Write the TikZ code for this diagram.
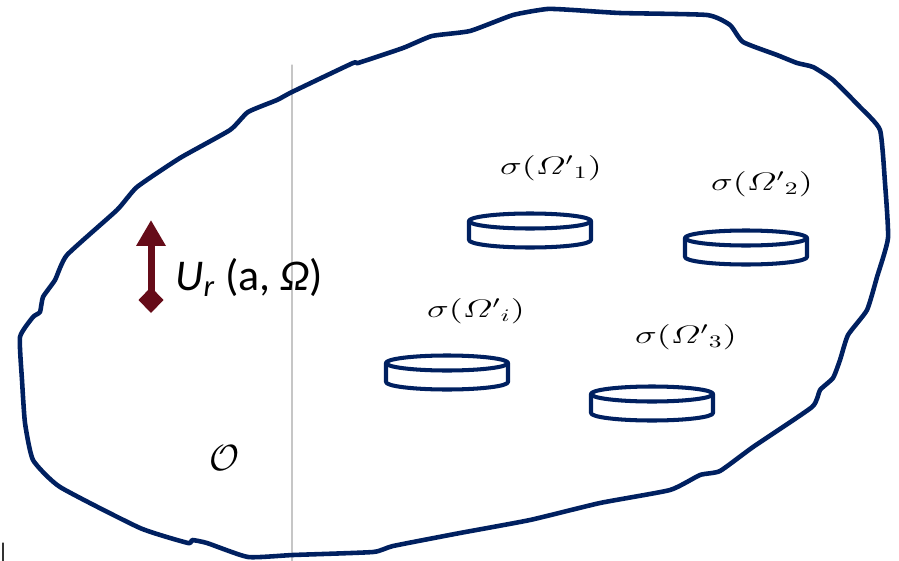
\documentclass[tikz,border=0pt]{standalone}
\usepackage{fontspec}
\newfontfamily\calibri{Carlito}
\usetikzlibrary{arrows.meta}
\definecolor{navy}{HTML}{002060}
\definecolor{ured}{HTML}{660C19}
\newcommand\sigl[1]{\scalebox{1.45}[1]{$\sigma(\mathnormal{\Omega}'{}_{#1})$}}
\begin{document}
\begin{tikzpicture}[x=0.02cm,y=-0.02cm,line join=round,line cap=round]
	\useasboundingbox (0,0) rectangle (899,561);
	\draw [gray!45,line width=0.6pt] (292,65)--(292,561);
	\draw [black!80,line width=0.7pt] (3,543)--(3,561);
	% outline of the body
	\draw [navy,line width=2.6pt] plot [smooth cycle,tension=0.3] coordinates {
		(573,10) (620,13) (707,15) (730,25) (743,42) (777,55) (797,63) (813,67)
		(833,80) (860,107) (880,130) (885,183) (888,238) (877,277) (867,310)
		(848,335) (840,360) (833,378) (820,390) (812,407) (753,447) (720,471)
		(700,475) (670,490) (600,503) (530,520) (460,533) (393,546) (373,552)
		(293,555) (248,557) (207,543) (192,540) (188,543) (140,528) (60,487)
		(33,460) (25,423) (22,380) (20,337) (33,317) (40,312) (43,297) (55,280)
		(67,255) (117,210) (137,187) (180,158) (230,130) (248,112) (277,100)
		(292,92) (353,63) (358,63) (403,48) (432,36) (470,31) (513,15) (547,9)};
	% the discs
	\foreach \x/\y/\n in {530/221/D1,746/238/D2,447/363/Di,652/394/D3}{
		\path (\x,\y) coordinate (\n);
		\draw [navy,line width=2.3pt] (\n) ellipse [x radius=61,y radius=7.5];
		\draw [navy,line width=2.3pt] (\x-61,\y)--(\x-61,\y+19)
			arc [start angle=180,end angle=0,x radius=61,y radius=7.5]--(\x+61,\y);
	}
	\begin{scope}[font=\fontsize{14}{16}\selectfont]
		\node (s1) at (551,168) {\sigl{1}};
		\node (s2) at (762,184) {\sigl{2}};
		\node (si) at (476,311) {\sigl{i}};
		\node (s3) at (686,337) {\sigl{3}};
	\end{scope}
	% vibration of the body
	\path (151,313) coordinate (ub) (151,220) coordinate (ut);
	\draw [ured,line width=1.4mm,{Diamond[length=5.2mm,width=5mm]}-{Triangle[length=5.2mm,width=5.6mm]}] (ub)--(ut);
	\node [anchor=base west,inner sep=0pt,font=\calibri\fontsize{25}{28}\selectfont] (ur) at (175,290)
		{\textit{U}\textsubscript{\textit{r}} (a, \textit{Ω})};
	\node [font=\fontsize{20}{24}\selectfont] (O) at (225,458) {$\mathcal{O}$};
\end{tikzpicture}
\end{document}
